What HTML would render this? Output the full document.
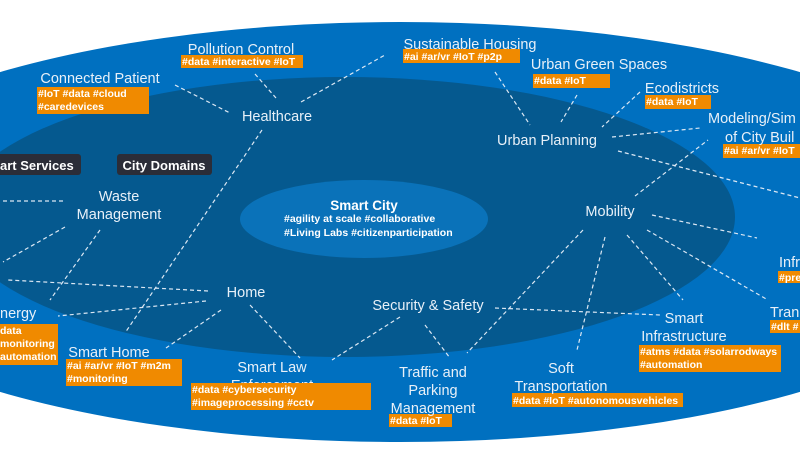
<!DOCTYPE html>
<html><head><meta charset="utf-8"><style>
html,body{margin:0;padding:0;background:#fff;}
svg{display:block;font-family:"Liberation Sans",Arial,sans-serif;}
.l{fill:#e8f0f8;font-size:14.5px;}
.t{fill:#fff;font-size:10.5px;font-weight:bold;}
.d{stroke:#dce8f4;stroke-width:1.2;stroke-dasharray:4 3;fill:none;}
.o{fill:#f08a00;}
</style></head><body>
<svg width="800" height="465" viewBox="0 0 800 465">
<rect width="800" height="465" fill="#fff"/>
<ellipse cx="400" cy="232" rx="617" ry="210" fill="#0070c0"/>
<ellipse cx="345" cy="217" rx="390" ry="140" fill="#05598f"/>
<ellipse cx="364" cy="219" rx="124" ry="39" fill="#0a72b9"/>

<g class="d">
<path d="M175,85L230,113"/><path d="M255,74L276,98"/><path d="M301,102L385,55"/>
<path d="M262,130L125,333"/>
<path d="M495,72L530,125"/><path d="M577,95L561,122"/><path d="M640,92L602,127"/>
<path d="M612,137L700,128"/><path d="M618,151L800,198"/>
<path d="M635,196L708,140"/><path d="M652,215L757,238"/>
<path d="M627,235L683,300"/><path d="M647,230L768,300"/>
<path d="M605,237L577,350"/><path d="M583,230L467,353"/>
<path d="M495,308L660,315"/><path d="M425,325L450,358"/><path d="M400,317L332,360"/>
<path d="M250,305L300,358"/><path d="M221,310L166,348"/>
<path d="M206,301L58,316"/><path d="M208,291L8,280"/>
<path d="M63,201L0,201"/><path d="M65,227L3,262"/><path d="M100,230L50,300"/>
</g>

<rect class="o" x="181" y="55" width="122" height="13"/>
<rect class="o" x="403" y="49" width="117" height="14"/>
<rect class="o" x="533" y="74" width="77" height="14"/>
<rect class="o" x="645" y="95" width="66" height="14"/>
<rect class="o" x="723" y="144" width="77" height="14"/>
<rect class="o" x="37" y="87" width="112" height="27"/>
<rect class="o" x="0" y="324" width="58" height="41"/>
<rect class="o" x="66" y="359" width="116" height="27"/>
<rect class="o" x="389" y="414" width="63" height="13"/>
<rect class="o" x="512" y="393" width="171" height="14"/>
<rect class="o" x="639" y="345" width="142" height="27"/>
<rect class="o" x="778" y="271" width="22" height="12"/>
<rect class="o" x="770" y="320" width="30" height="13"/>

<rect x="-6" y="154" width="87" height="21" rx="3" fill="#2b2d38"/>
<rect x="117" y="154" width="95" height="21" rx="3" fill="#2b2d38"/>
<text x="0" y="170" fill="#fff" font-size="13" font-weight="bold">art Services</text>
<text x="164" y="170" fill="#fff" font-size="13" font-weight="bold" text-anchor="middle">City Domains</text>

<g class="l">
<text x="241" y="54" text-anchor="middle">Pollution Control</text>
<text x="470" y="49" text-anchor="middle">Sustainable Housing</text>
<text x="599" y="69" text-anchor="middle">Urban Green Spaces</text>
<text x="682" y="93" text-anchor="middle">Ecodistricts</text>
<text x="708" y="123">Modeling/Sim</text>
<text x="725" y="142">of City Buil</text>
<text x="100" y="83" text-anchor="middle">Connected Patient</text>
<text x="277" y="121" text-anchor="middle">Healthcare</text>
<text x="547" y="145" text-anchor="middle">Urban Planning</text>
<text x="119" y="201" text-anchor="middle">Waste</text>
<text x="119" y="219" text-anchor="middle">Management</text>
<text x="610" y="216" text-anchor="middle">Mobility</text>
<text x="246" y="297" text-anchor="middle">Home</text>
<text x="428" y="310" text-anchor="middle">Security &amp; Safety</text>
<text x="0" y="318">nergy</text>
<text x="109" y="357" text-anchor="middle">Smart Home</text>
<text x="272" y="372" text-anchor="middle">Smart Law</text>
<text x="272" y="390" text-anchor="middle">Enforcement</text>
<text x="433" y="377" text-anchor="middle">Traffic and</text>
<text x="433" y="395" text-anchor="middle">Parking</text>
<text x="433" y="413" text-anchor="middle">Management</text>
<text x="561" y="373" text-anchor="middle">Soft</text>
<text x="561" y="391" text-anchor="middle">Transportation</text>
<text x="684" y="323" text-anchor="middle">Smart</text>
<text x="684" y="341" text-anchor="middle">Infrastructure</text>
<text x="779" y="267">Infr</text>
<text x="770" y="317">Tran</text>
</g>
<rect class="o" x="191" y="383" width="180" height="27"/>

<g class="t">
<text x="182" y="65">#data #interactive #IoT</text>
<text x="404" y="60">#ai #ar/vr #IoT #p2p</text>
<text x="534" y="84">#data #IoT</text>
<text x="646" y="105">#data #IoT</text>
<text x="724" y="154">#ai #ar/vr #IoT</text>
<text x="38" y="97">#IoT #data #cloud</text>
<text x="38" y="110">#caredevices</text>
<text x="0" y="334">data</text>
<text x="0" y="347">monitoring</text>
<text x="0" y="360">automation</text>
<text x="67" y="369">#ai #ar/vr #IoT #m2m</text>
<text x="67" y="382">#monitoring</text>
<text x="192" y="393">#data #cybersecurity</text>
<text x="192" y="406">#imageprocessing #cctv</text>
<text x="390" y="424">#data #IoT</text>
<text x="513" y="404">#data #IoT #autonomousvehicles</text>
<text x="640" y="355">#atms #data #solarrodways</text>
<text x="640" y="368">#automation</text>
<text x="779" y="281">#pre</text>
<text x="771" y="330">#dlt #</text>
</g>

<text x="364" y="210" fill="#fff" font-size="13.5" font-weight="bold" text-anchor="middle">Smart City</text>
<text x="284" y="222" fill="#fff" font-size="10.5" font-weight="bold">#agility at scale #collaborative</text>
<text x="284" y="236" fill="#fff" font-size="10.5" font-weight="bold">#Living Labs #citizenparticipation</text>
</svg>
</body></html>
